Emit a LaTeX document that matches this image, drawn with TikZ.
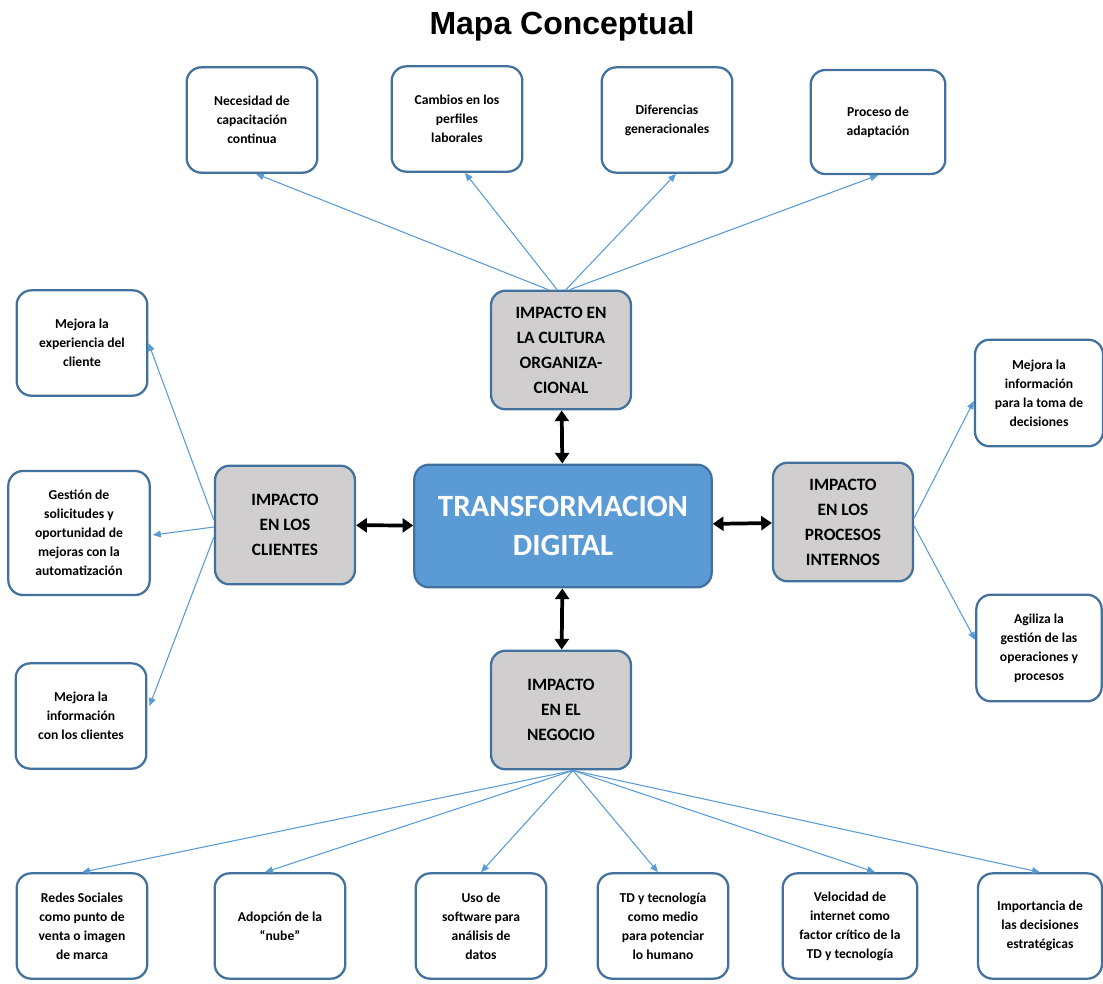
\documentclass[tikz,border=0pt]{standalone}
\usepackage{fontspec}
\setmainfont{Carlito}
\newfontfamily\titlefont{Liberation Sans}
\usetikzlibrary{arrows.meta,calc}

\definecolor{bordeazul}{RGB}{65,113,156}
\definecolor{azulclaro}{RGB}{91,155,213}
\definecolor{grisimp}{RGB}{208,206,206}

\begin{document}
\begin{tikzpicture}[x=0.75pt,y=0.75pt,yscale=-1,xscale=1,
  caja/.style={draw=bordeazul, line width=1.7pt, rounded corners=11pt, fill=white,
    align=center, inner sep=2pt, minimum width=98pt, minimum height=79pt,
    font=\bfseries\fontsize{10.2}{14.2}\selectfont},
  impacto/.style={caja, fill=grisimp, minimum width=105pt, minimum height=89pt,
    font=\bfseries\fontsize{13}{18.8}\selectfont},
  central/.style={caja, fill=azulclaro, text=white, minimum width=223pt, minimum height=92pt,
    font=\bfseries\fontsize{23.2}{29}\selectfont},
  rama/.style={draw=azulclaro, line width=0.8pt, -{Triangle[length=6pt,width=5pt]}},
  enlace/.style={draw=black, line width=2.8pt, {Triangle[length=8pt,width=10.5pt]}-{Triangle[length=8pt,width=10.5pt]}}
]
\useasboundingbox (0,0) rectangle (1103,983);

% Title
\node (titulo) at (562,26) {\titlefont\bfseries\fontsize{24}{28}\selectfont Mapa Conceptual};

% Center and impact boxes
\node [central] (td) at (563,526) {TRANSFORMACION\\DIGITAL};
\node [impacto] (cult) at (561,350) {IMPACTO EN\\LA CULTURA\\ORGANIZA-\\CIONAL};
\node [impacto] (cli) at (285,525) {IMPACTO\\EN LOS\\CLIENTES};
\node [impacto] (proc) at (843,522) {IMPACTO\\EN LOS\\PROCESOS\\INTERNOS};
\node [impacto] (neg) at (561,710) {IMPACTO\\EN EL\\NEGOCIO};

% Top row
\node [caja] (nec) at (252,120) {Necesidad de\\capacitación\\continua};
\node [caja] (cam) at (457,119) {Cambios en los\\perfiles\\laborales};
\node [caja] (dif) at (667,120) {Diferencias\\generacionales};
\node [caja, minimum width=101pt, minimum height=78pt] (pro) at (878,122) {Proceso de\\adaptación};

% Left column
\node [caja] (exp) at (82,343) {Mejora la\\experiencia del\\cliente};
\node [caja, minimum width=106pt, minimum height=93pt] (ges) at (79,533) {Gestión de\\solicitudes y\\oportunidad de\\mejoras con la\\automatización};
\node [caja] (infc) at (81,716) {Mejora la\\información\\con los clientes};

% Right column
\node [caja, minimum width=96pt, minimum height=80pt] (toma) at (1039,393) {Mejora la\\información\\para la toma de\\decisiones};
\node [caja, minimum width=94pt, minimum height=80pt] (agi) at (1039,648) {Agiliza la\\gestión de las\\operaciones y\\procesos};

% Bottom row
\node [caja] (red) at (82,926) {Redes Sociales\\como punto de\\venta o imagen\\de marca};
\node [caja] (ado) at (280,926) {Adopción de la\\“nube”};
\node [caja] (uso) at (481,926) {Uso de\\software para\\análisis de\\datos};
\node [caja] (hum) at (663,926) {TD y tecnología\\como medio\\para potenciar\\lo humano};
\node [caja, minimum width=101pt] (vel) at (850,926) {Velocidad de\\internet como\\factor crítico de la\\TD y tecnología};
\node [caja, minimum width=93pt] (imp) at (1040,926) {Importancia de\\las decisiones\\estratégicas};

% Double arrows
\draw [enlace] (cult) -- (td);
\draw [enlace] (td) -- (neg);
\draw [enlace] (cli) -- (td);
\draw [enlace] (td) -- (proc);

% Branches
\draw [rama] ($(cult.north)+(-13,0)$) -- ($(nec.south)+(4,0)$);
\draw [rama] ($(cult.north)+(-4,0)$) -- ($(cam.south)+(8,0)$);
\draw [rama] ($(cult.north)+(5,0)$) -- ($(dif.south)+(9,0)$);
\draw [rama] ($(cult.north)+(9,0)$) -- (pro.south);

\draw [rama] ($(cli.west)+(0,-5)$) -- (exp.east);
\draw [rama] ($(cli.west)+(0,2)$) -- ($(ges.east)+(2,2)$);
\draw [rama] ($(cli.west)+(0,12)$) -- ($(infc.east)+(2,-10)$);

\draw [rama] ($(proc.east)+(0,-4)$) -- ($(toma.west)+(0,8)$);
\draw [rama] ($(proc.east)+(0,4)$) -- ($(agi.west)+(0,-8)$);

\draw [rama] ($(neg.south)+(12,0)$) -- (red.north);
\draw [rama] ($(neg.south)+(12,0)$) -- ($(ado.north)+(-15,0)$);
\draw [rama] ($(neg.south)+(12,0)$) -- (uso.north);
\draw [rama] ($(neg.south)+(12,0)$) -- ($(hum.north)+(-5,0)$);
\draw [rama] ($(neg.south)+(12,0)$) -- ($(vel.north)+(25,0)$);
\draw [rama] ($(neg.south)+(12,0)$) -- (imp.north);

\end{tikzpicture}
\end{document}
